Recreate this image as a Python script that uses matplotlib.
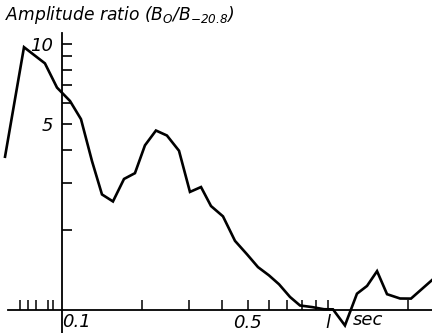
import matplotlib
matplotlib.use("Agg")
import matplotlib.pyplot as plt
from matplotlib.ticker import FixedLocator, NullFormatter, FixedFormatter

# Delay time (sec) and amplitude ratio B0/B-20.8
delay_sec = [0.0611, 0.0720, 0.0863, 0.0958, 0.1072, 0.1179, 0.1297, 0.1414,
             0.1555, 0.1711, 0.1881, 0.2051, 0.2256, 0.2481, 0.2754, 0.3028,
             0.3332, 0.3633, 0.4030, 0.4471, 0.4961, 0.5455, 0.600, 0.6545,
             0.7197, 0.785, 0.871, 0.966, 1.044, 1.158, 1.285, 1.402, 1.529,
             1.667, 1.866, 2.051, 2.46]
amp_ratio = [3.77, 9.73, 8.46, 6.86, 6.11, 5.22, 3.63, 2.72,
             2.56, 3.11, 3.27, 4.16, 4.73, 4.53, 3.97, 2.78,
             2.90, 2.46, 2.25, 1.82, 1.62, 1.45, 1.35, 1.25,
             1.12, 1.04, 1.026, 1.007, 1.006, 0.875, 1.152, 1.232, 1.40,
             1.147, 1.105, 1.104, 1.296]

y_ticks = [2, 3, 4, 5, 6, 7, 8, 9, 10]
y_labels = ["", "", "", "5", "", "", "", "", "10"]
x_minor = [0.0695, 0.0745, 0.080, 0.089, 0.0925,
           0.2, 0.3, 0.4, 0.6, 0.7, 0.8, 0.9, 2.0]
x_major = [0.5, 1.0]
x_major_labels = ["0.5", "l"]

plt.rcParams["font.family"] = ["DejaVu Sans"]
plt.rcParams["mathtext.fontset"] = "custom"
plt.rcParams["mathtext.rm"] = "DejaVu Sans:italic"
plt.rcParams["mathtext.it"] = "DejaVu Sans:italic"

fig = plt.figure(figsize=(4.32, 3.33), dpi=100)
ax = fig.add_axes([0, 0, 1, 1])
ax.set_xscale("log")
ax.set_yscale("log")
ax.set_xlim(0.0585, 2.46)
ax.set_ylim(0.8197, 14.64)

ax.plot(delay_sec, amp_ratio, color="black", lw=1.9, solid_joinstyle="miter",
        clip_on=True)

for s in ["top", "right"]:
    ax.spines[s].set_visible(False)
ax.spines["left"].set_position(("data", 0.1))
ax.spines["bottom"].set_position(("data", 1.0))
ax.spines["left"].set_bounds(0.8, 11.0)
ax.spines["bottom"].set_bounds(0.0625, 2.46)
ax.spines["left"].set_linewidth(1.3)
ax.spines["bottom"].set_linewidth(1.3)

ax.yaxis.set_major_locator(FixedLocator(y_ticks))
ax.yaxis.set_major_formatter(FixedFormatter(y_labels))
ax.yaxis.set_minor_locator(FixedLocator([]))
ax.tick_params(axis="y", which="major", direction="in", length=7, width=1.2,
               pad=6, labelsize=13)

ax.xaxis.set_major_locator(FixedLocator(x_major))
ax.xaxis.set_major_formatter(FixedFormatter(x_major_labels))
ax.xaxis.set_minor_locator(FixedLocator(x_minor))
ax.xaxis.set_minor_formatter(NullFormatter())
ax.tick_params(axis="x", which="both", direction="in", length=7, width=1.1,
               pad=3, labelsize=13)
for lab in ax.get_xticklabels() + ax.get_yticklabels():
    lab.set_fontstyle("italic")

ax.text(0.1, 0.975, "0.1", fontsize=13, style="italic", ha="left", va="top",
        transform=ax.transData)
ax.text(1.24, 0.995, "sec", fontsize=13, style="italic", ha="left", va="top")

fig.text(5 / 432, 1 - 15 / 333, r"Amplitude ratio $(\mathrm{B}_{\mathrm{O}}/\mathrm{B}_{-20.8})$",
         fontsize=12.3, style="italic", ha="left", va="center")

fig.savefig("out.png", dpi=100)
